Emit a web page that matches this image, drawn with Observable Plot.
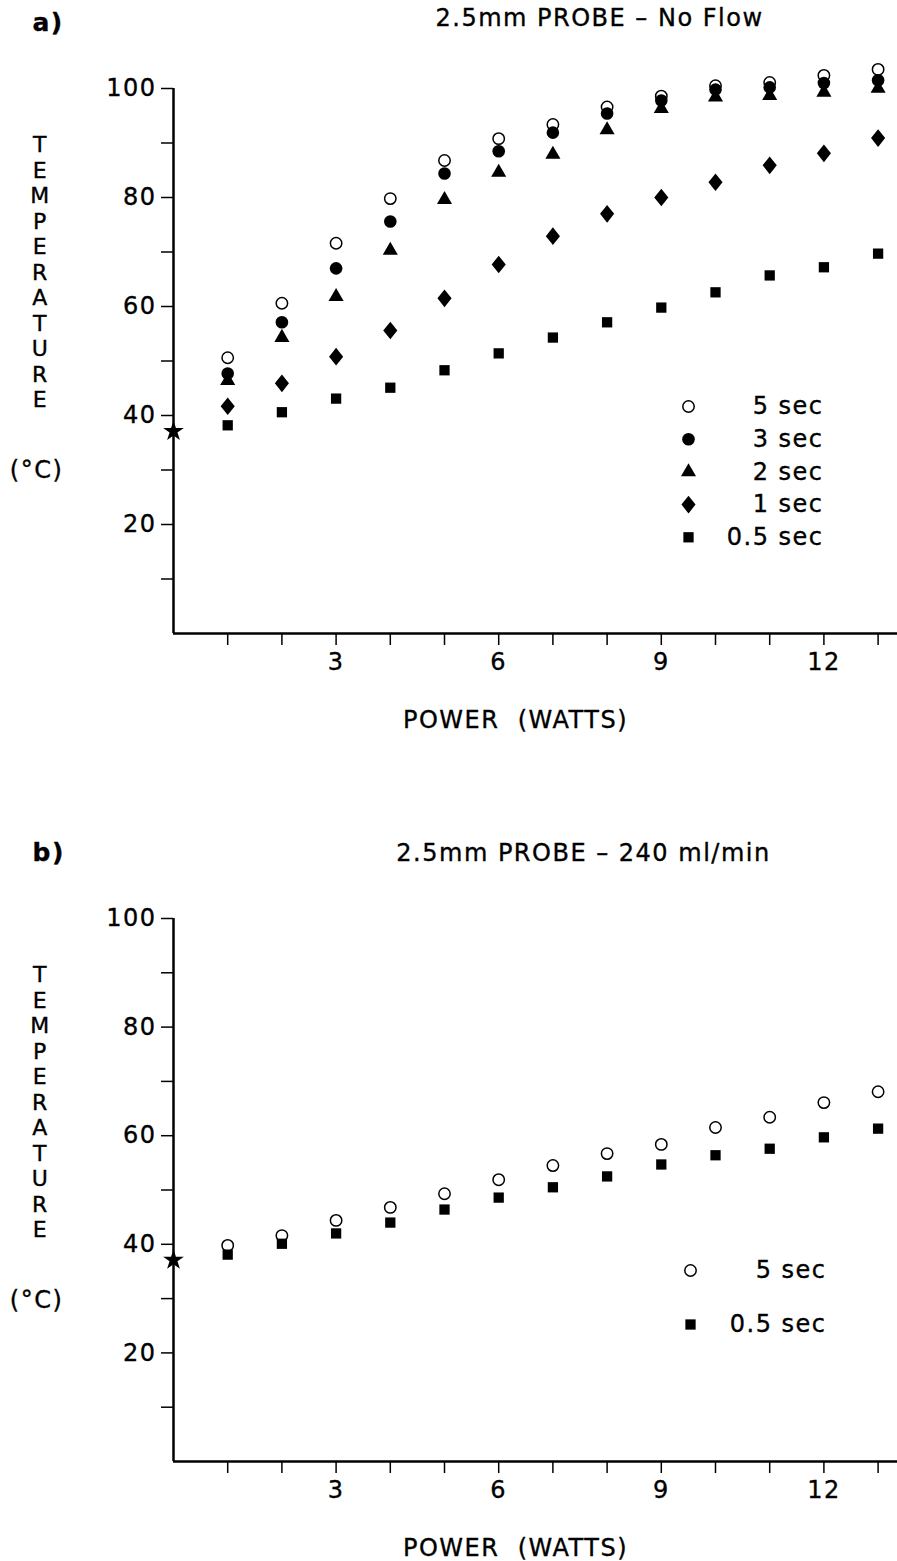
<!DOCTYPE html>
<html><head><meta charset="utf-8">
<script src="https://cdn.jsdelivr.net/npm/d3@7"></script>
<script src="https://cdn.jsdelivr.net/npm/@observablehq/plot@0.6"></script>
<style>
body{margin:0;background:#fff;}
#chart svg{display:block;}
#chart text{letter-spacing:1.5px;stroke:#000;stroke-width:0.35px;}
</style></head><body><div id="chart"></div>
<script>
// ---- data ----
const watts = [1,2,3,4,5,6,7,8,9,10,11,12,13];
const xTickLabels = [3,6,9,12];
const yTicks = [10,20,30,40,50,60,70,80,90,100];
const yTickLabels = [20,40,60,80,100];
const baselineTemp = 37.1; // star at 0 W

// panel a: 2.5mm probe, no flow
const a_5sec  = [50.6, 60.6, 71.6, 79.8, 86.8, 90.8, 93.4, 96.6, 98.6, 100.5, 101.1, 102.4, 103.5];
const a_3sec  = [47.7, 57.1, 67.0, 75.6, 84.4, 88.5, 91.9, 95.4, 97.8, 99.8, 100.2, 101.0, 101.5];
const a_2sec  = [46.4, 54.3, 61.8, 70.3, 79.6, 84.6, 87.9, 92.4, 96.3, 98.4, 98.7, 99.3, 100.0];
const a_1sec  = [41.7, 45.9, 50.8, 55.6, 61.5, 67.7, 72.9, 77.0, 80.0, 82.8, 85.9, 88.1, 90.9];
const a_05sec = [38.2, 40.6, 43.1, 45.1, 48.3, 51.4, 54.3, 57.1, 59.8, 62.6, 65.7, 67.2, 69.7];

// panel b: 2.5mm probe, 240 ml/min
const b_5sec  = [39.8, 41.6, 44.4, 46.8, 49.3, 51.9, 54.5, 56.7, 58.4, 61.5, 63.4, 66.1, 68.1];
const b_05sec = [38.1, 40.1, 42.0, 44.0, 46.4, 48.6, 50.5, 52.5, 54.7, 56.4, 57.6, 59.7, 61.3];

// rhombus a bit narrower than tall, like the printed marker
const rhombus = {draw(ctx, size) {
  const a = Math.sqrt(size / 2.5), b = a / 0.8;
  ctx.moveTo(0, -b); ctx.lineTo(a, 0); ctx.lineTo(0, b); ctx.lineTo(-a, 0); ctx.closePath();
}};

const styles = {
  "5 sec":   {symbol: "circle",   fill: "white", stroke: "black", strokeWidth: 1.5, r: 5.7},
  "3 sec":   {symbol: "circle",   fill: "black", r: 6.3},
  "2 sec":   {symbol: "triangle", fill: "black", r: 5.6},
  "1 sec":   {symbol: rhombus,    fill: "black", r: 6.3},
  "0.5 sec": {symbol: "square",   fill: "black", r: 5.8}
};

const FONT = "DejaVu Sans";

function panel({series, title, tag, height, marginTop, marginBottom, legendDx, legendDy, legendGap, legendTextDx}) {
  const W = 897, ML = 173;
  const marks = [
    Plot.axisY({ticks: yTicks, tickSize: 12, tickPadding: 5, tickFormat: d => yTickLabels.includes(d) ? d : "", label: null, strokeWidth: 1.5}),
    Plot.axisX({ticks: watts, tickSize: 12, tickPadding: 7, tickFormat: d => xTickLabels.includes(d) ? d : "", label: null, strokeWidth: 1.5}),
    Plot.ruleX([0], {strokeWidth: 2.5}),
    Plot.ruleY([0], {strokeWidth: 2.5}),
  ];
  for (const s of series) {
    marks.push(Plot.dot(watts.map((w, i) => ({w, t: s.values[i]})), {x: "w", y: "t", ...styles[s.name]}));
  }
  marks.push(Plot.dot([{w: 0, t: baselineTemp}], {x: "w", y: "t", symbol: "star", fill: "black", r: 6.5}));
  // legend
  series.forEach((s, i) => {
    marks.push(Plot.dot([s.name], {frameAnchor: "top-left", dx: legendDx, dy: legendDy + i * legendGap, ...styles[s.name]}));
    marks.push(Plot.text([s.name], {frameAnchor: "top-left", dx: legendTextDx, dy: legendDy + i * legendGap, textAnchor: "end", lineAnchor: "middle", fontSize: 24, fill: "black", ariaLabel: "legend"}));
  });
  // texts
  marks.push(Plot.text([tag], {frameAnchor: "top-left", dx: -141, dy: -66, textAnchor: "start", lineAnchor: "middle", fontSize: 25, fontWeight: "bold"}));
  marks.push(Plot.text([title.text], {frameAnchor: "top-left", dx: title.dx, dy: title.dy, textAnchor: "middle", lineAnchor: "middle", fontSize: 24}));
  marks.push(Plot.text(["TEMPERATURE".split("").join("\n")], {frameAnchor: "top-left", dx: -133, dy: 183, textAnchor: "middle", lineAnchor: "middle", lineHeight: 25.5 / 22, fontSize: 22, ariaLabel: "ylabel"}));
  marks.push(Plot.text(["(°C)"], {frameAnchor: "top-left", dx: -137, dy: 382, textAnchor: "middle", lineAnchor: "middle", fontSize: 24}));
  marks.push(Plot.text(["POWER  (WATTS)"], {frameAnchor: "bottom-left", dx: 342, dy: 87, textAnchor: "middle", lineAnchor: "middle", fontSize: 24, ariaLabel: "xlabel"}));

  const svg = Plot.plot({
    width: W, height, marginLeft: ML, marginRight: 0, marginTop, marginBottom,
    x: {domain: [0, (W - ML) / 54.2]},
    y: {domain: [0, 100]},
    style: {fontFamily: FONT, fontSize: "24px", color: "black", background: "white", overflow: "visible"},
    marks
  });
  d3.select(svg).selectAll('g[aria-label="xlabel"] text').style("letter-spacing", "3px");
  d3.select(svg).selectAll('g[aria-label="legend"] text').style("letter-spacing", "2.5px");
  d3.select(svg).selectAll('g[aria-label="ylabel"] text').style("letter-spacing", "0px");
  return svg;
}

const pa = panel({
  series: [
    {name: "5 sec", values: a_5sec},
    {name: "3 sec", values: a_3sec},
    {name: "2 sec", values: a_2sec},
    {name: "1 sec", values: a_1sec},
    {name: "0.5 sec", values: a_05sec}
  ],
  title: {text: "2.5mm PROBE – No Flow", dx: 426, dy: -70},
  tag: "a)", height: 780, marginTop: 88, marginBottom: 147,
  legendDx: 515, legendDy: 318, legendGap: 32.7, legendTextDx: 650
});
const pb = panel({
  series: [
    {name: "5 sec", values: b_5sec},
    {name: "0.5 sec", values: b_05sec}
  ],
  title: {text: "2.5mm PROBE – 240 ml/min", dx: 410, dy: -65},
  tag: "b)", height: 781, marginTop: 138, marginBottom: 100,
  legendDx: 517, legendDy: 352, legendGap: 54, legendTextDx: 653
});
document.getElementById("chart").append(pa, pb);
</script>
</body></html>
